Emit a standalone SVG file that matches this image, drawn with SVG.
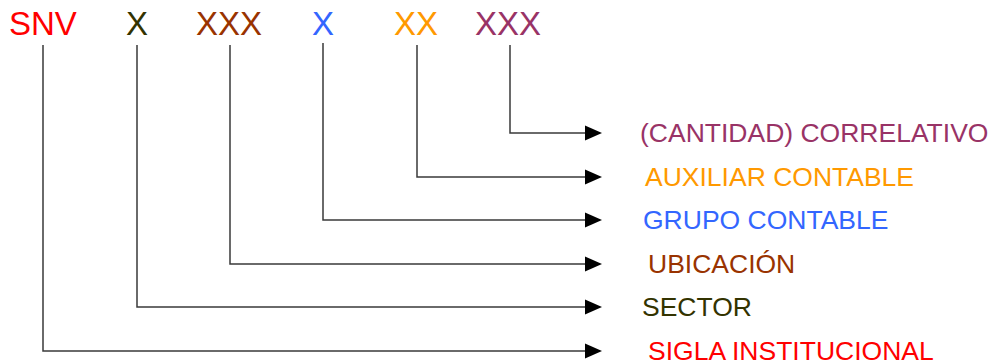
<svg xmlns="http://www.w3.org/2000/svg" width="990" height="364" viewBox="0 0 990 364">
  <style>
    .code { font-family: "Liberation Sans", Arial, sans-serif; font-size: 33px; }
    .label { font-family: "Liberation Sans", Arial, sans-serif; font-size: 26.5px; }
    .wire { fill: none; stroke: #3a3a3a; stroke-width: 1.5; marker-end: url(#arrow); }
    .c-sigla { fill: #ff0000; }
    .c-sector { fill: #333300; }
    .c-ubic { fill: #993300; }
    .c-grupo { fill: #3366ff; }
    .c-aux { fill: #ff9900; }
    .c-corr { fill: #993366; }
  </style>
  <defs>
    <marker id="arrow" markerUnits="userSpaceOnUse" markerWidth="17" markerHeight="16" refX="0" refY="8" orient="auto">
      <path d="M0,0.5 L17,8 L0,15.5 z" fill="#000"/>
    </marker>
  </defs>
  <rect width="990" height="364" fill="#fff"/>

  <!-- code segments -->
  <g id="seg-sigla"><text class="code c-sigla" x="9" y="35">SNV</text></g>
  <g id="seg-sector"><text class="code c-sector" x="126" y="35">X</text></g>
  <g id="seg-ubicacion"><text class="code c-ubic" x="196" y="35">XXX</text></g>
  <g id="seg-grupo"><text class="code c-grupo" x="312" y="35">X</text></g>
  <g id="seg-auxiliar"><text class="code c-aux" x="394" y="35">XX</text></g>
  <g id="seg-correlativo"><text class="code c-corr" x="475" y="35">XXX</text></g>

  <!-- descriptions -->
  <g id="lbl-correlativo"><text class="label c-corr" x="640" y="141.5">(CANTIDAD) CORRELATIVO</text></g>
  <g id="lbl-auxiliar"><text class="label c-aux" x="645" y="185.5">AUXILIAR CONTABLE</text></g>
  <g id="lbl-grupo"><text class="label c-grupo" x="643" y="228.5">GRUPO CONTABLE</text></g>
  <g id="lbl-ubicacion"><text class="label c-ubic" x="648" y="272.5">UBICACIÓN</text></g>
  <g id="lbl-sector"><text class="label c-sector" x="642" y="315.5">SECTOR</text></g>
  <g id="lbl-sigla"><text class="label c-sigla" x="648" y="359.5">SIGLA INSTITUCIONAL</text></g>

  <!-- connectors -->
  <g id="connectors">
    <path class="wire" d="M510,45 V133 H585"/>
    <path class="wire" d="M417,45 V177 H585"/>
    <path class="wire" d="M323,43 V220 H585"/>
    <path class="wire" d="M230,45 V264 H585"/>
    <path class="wire" d="M137,45 V307 H585"/>
    <path class="wire" d="M43,45 V351 H585"/>
  </g>
</svg>
